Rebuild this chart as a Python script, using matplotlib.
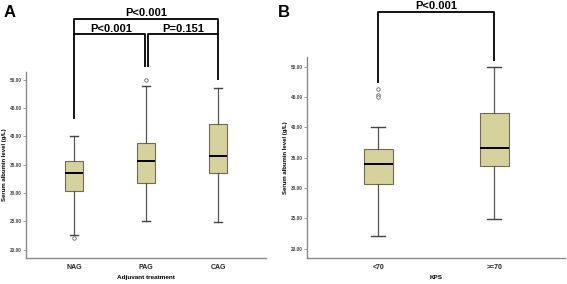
import matplotlib
matplotlib.use("Agg")
import matplotlib.pyplot as plt

plt.rcParams['font.family'] = ['Liberation Sans', 'DejaVu Sans']

# panel A : adjuvant treatment
groups_a = ["NAG", "PAG", "CAG"]
whislo_a = [22.5, 25.1, 24.9]
q1_a = [30.4, 31.8, 33.6]
med_a = [33.5, 35.7, 36.5]
q3_a = [35.7, 38.8, 42.2]
whishi_a = [40.0, 49.0, 48.5]
fliers_a = [[22.1], [50.0], []]

# panel B : KPS
groups_b = ["<70", ">=70"]
whislo_b = [22.1, 24.9]
q1_b = [30.7, 33.6]
med_b = [33.9, 36.6]
q3_b = [36.4, 42.3]
whishi_b = [40.0, 50.0]
fliers_b = [[46.4, 45.3, 45.0], []]

yticks = [20, 25, 30, 35, 40, 45, 50]

box_face = "#D6D29C"
box_edge = "#6e6c52"


def make_stats(labels, lo, q1, med, q3, hi, fl):
    st = []
    for i in range(len(labels)):
        st.append(dict(label=labels[i], whislo=lo[i], q1=q1[i], med=med[i],
                       q3=q3[i], whishi=hi[i], fliers=fl[i]))
    return st


def draw_panel(ax, stats, xlabel, xlim, ylim):
    n = len(stats)
    ax.bxp(stats, positions=range(1, n + 1), widths=0.25, capwidths=0.12,
           patch_artist=True, showfliers=True,
           boxprops=dict(facecolor=box_face, edgecolor=box_edge, linewidth=0.8),
           medianprops=dict(color="black", linewidth=1.4),
           whiskerprops=dict(color="#555555", linewidth=0.9),
           capprops=dict(color="#444444", linewidth=1.0),
           flierprops=dict(marker="o", markersize=2.5, markerfacecolor="white",
                           markeredgecolor="#666666", markeredgewidth=0.6))
    ax.set_xlim(xlim)
    ax.set_ylim(ylim)
    ax.set_yticks(yticks)
    ax.set_yticklabels(["%.2f" % v for v in yticks], fontsize=3.4,
                       fontweight="bold", color="#444444")
    ax.set_xticks(range(1, n + 1))
    ax.set_xticklabels([s["label"] for s in stats], fontsize=5,
                       fontweight="bold", color="#222222")
    ax.tick_params(axis="y", length=2, width=0.5, pad=0.8, colors="#777777",
                   labelcolor="#444444")
    ax.tick_params(axis="x", length=0, pad=4)
    ax.spines["top"].set_visible(False)
    ax.spines["right"].set_visible(False)
    for s in ["left", "bottom"]:
        ax.spines[s].set_color("#8a8a8a")
        ax.spines[s].set_linewidth(1.0)
    ax.set_xlabel(xlabel, fontsize=4.6, fontweight="bold", labelpad=3)
    ax.set_ylabel("Serum albumin level (g/L)", fontsize=4.3, fontweight="bold",
                  labelpad=2)


fig = plt.figure(figsize=(5.67, 2.84), dpi=100)

axA = fig.add_axes([0.0459, 0.0915, 0.4232, 0.655])
draw_panel(axA, make_stats(groups_a, whislo_a, q1_a, med_a, q3_a, whishi_a, fliers_a),
           "Adjuvant treatment", (0.333, 3.667), (18.5, 51.4))

axB = fig.add_axes([0.5414, 0.0905, 0.4551, 0.7085])
draw_panel(axB, make_stats(groups_b, whislo_b, q1_b, med_b, q3_b, whishi_b, fliers_b),
           "KPS", (0.385, 2.61), (18.4, 51.6))

# significance brackets
lk = dict(color="black", linewidth=1.3, clip_on=False, solid_capstyle="butt")
tk = dict(fontsize=8, fontweight="bold", ha="center", va="bottom", clip_on=False)

axA.plot([1, 1, 3, 3], [43.1, 60.8, 60.8, 49.9], **lk)
axA.plot([1, 1.985, 1.985], [58.1, 58.1, 52.3], **lk)
axA.plot([2.03, 2.03, 3], [52.3, 58.1, 58.1], **lk)
axA.text(2.0, 60.95, "P<0.001", **tk)
axA.text(1.52, 58.2, "P<0.001", **tk)
axA.text(2.51, 58.2, "P=0.151", **tk)

axB.plot([1, 1, 2, 2], [47.4, 59.1, 59.1, 51.0], **lk)
axB.text(1.5, 59.15, "P<0.001", **tk)

fig.text(0.006, 0.94, "A", fontsize=12, fontweight="bold")
fig.text(0.49, 0.94, "B", fontsize=12, fontweight="bold")

fig.savefig("out.png", dpi=100)
